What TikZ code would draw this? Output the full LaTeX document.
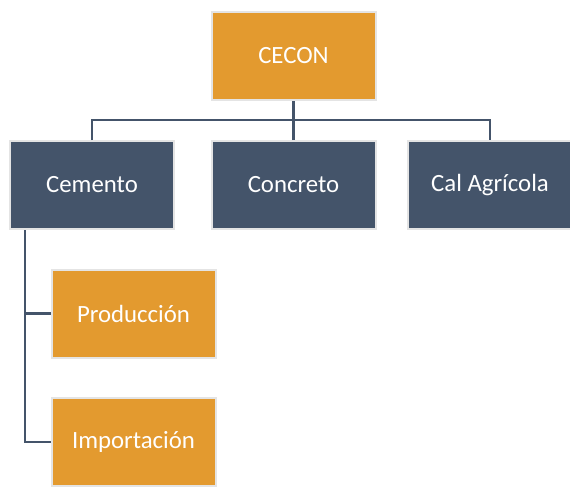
\documentclass[tikz,border=0pt]{standalone}
\usepackage{fontspec}
\setmainfont{Carlito}
\definecolor{orangebox}{HTML}{E39A2F}
\definecolor{slatebox}{HTML}{44546A}
\definecolor{rimgray}{HTML}{E4E4E4}
\tikzset{
  px/.style={x=0.75pt,y=-0.75pt},
  basebox/.style={draw=rimgray,line width=1.5pt,minimum width=123pt,minimum height=66pt,inner sep=0pt,text=white,font=\fontsize{18.6}{20}\selectfont},
  orangenode/.style={basebox,fill=orangebox},
  slatenode/.style={basebox,fill=slatebox},
  link/.style={draw=slatebox,line width=2pt}
}
\begin{document}
\begin{tikzpicture}[px]
\useasboundingbox (0,0) rectangle (570,486);
\node[orangenode] (cecon) at (293.5,56) {CECON};
\node[slatenode] (cemento) at (92,185) {Cemento};
\node[slatenode] (concreto) at (293.5,185) {Concreto};
\node[slatenode] (cal) at (490,185) {Cal Agrícola};
\node[orangenode] (prod) at (133.5,313.5) {Producción};
\node[orangenode] (imp) at (133.5,442) {Importación};
\coordinate (bar) at (0,120);
\draw[link] (cecon.south) -- (cecon.south |- bar);
\draw[link] (cemento.north) -- (cemento.north |- bar) -- (cal.north |- bar) -- (cal.north);
\draw[link] (concreto.north) -- (concreto.north |- bar);
\coordinate (trunk) at (25,0);
\draw[link] (trunk |- cemento.south) -- (trunk |- imp.west) -- (imp.west);
\draw[link] (trunk |- prod.west) -- (prod.west);
\end{tikzpicture}
\end{document}
